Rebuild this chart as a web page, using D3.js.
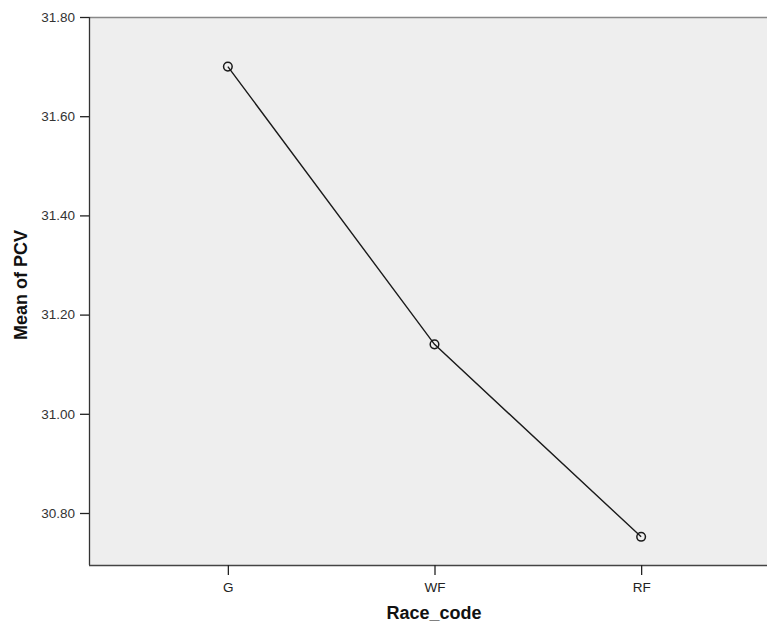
<!DOCTYPE html>
<html>
<head>
<meta charset="utf-8">
<script src="https://cdn.jsdelivr.net/npm/d3@7/dist/d3.min.js"></script>
<style>
  body { margin: 0; background: #fff; }
  svg { display: block; font-family: "Liberation Sans", Arial, sans-serif; }
</style>
</head>
<body>
<div id="chart"></div>
<script>
// means of PCV by race code
const categories = ['G', 'WF', 'RF'];
const means = [31.70, 31.14, 30.752];
const yTicks = [30.8, 31.0, 31.2, 31.4, 31.6, 31.8];

const width = 767, height = 624;
const plotLeft = 89, plotTop = 17, plotBottom = 565, plotRight = 780;

const svg = d3.select('#chart').append('svg')
  .attr('width', width)
  .attr('height', height);

const x = d3.scalePoint().domain(categories).range([plotLeft, plotRight]).padding(0.672);
const y = d3.scaleLinear().domain([30.8, 31.8]).range([513, plotTop]);

// plot background
svg.append('rect')
  .attr('x', plotLeft).attr('y', plotTop)
  .attr('width', plotRight - plotLeft).attr('height', plotBottom - plotTop)
  .attr('fill', '#eeeeee');

svg.append('line')
  .attr('x1', plotLeft).attr('x2', width).attr('y1', plotTop + 0.5).attr('y2', plotTop + 0.5)
  .attr('stroke', '#888').attr('stroke-width', 1.5);

// y axis
const yAxis = svg.append('g')
  .attr('transform', `translate(${plotLeft},0)`)
  .call(d3.axisLeft(y).tickValues(yTicks).tickFormat(d3.format('.2f')).tickSize(9).tickPadding(5));
yAxis.select('.domain').attr('d', `M0.5,${plotTop}V${plotBottom}`).attr('stroke', '#333').attr('stroke-width', 1.3);
yAxis.selectAll('.tick line').attr('stroke', '#222').attr('stroke-width', 1.3);
yAxis.selectAll('.tick text').attr('fill', '#333').attr('font-size', 13.5);

// x axis
const xAxis = svg.append('g')
  .attr('transform', `translate(0,${plotBottom})`)
  .call(d3.axisBottom(x).tickSize(10).tickPadding(7));
xAxis.select('.domain').attr('d', `M${plotLeft},0.5H${width}`).attr('stroke', '#444').attr('stroke-width', 1.5);
xAxis.selectAll('.tick line').attr('stroke', '#222').attr('stroke-width', 1.3);
xAxis.selectAll('.tick text').attr('fill', '#222').attr('font-size', 13.5);

// line + markers
const pts = categories.map((c, i) => ({ c, v: means[i] }));
const line = d3.line().x(d => x(d.c)).y(d => y(d.v));
svg.append('path')
  .datum(pts)
  .attr('d', line)
  .attr('fill', 'none')
  .attr('stroke', '#1a1a1a')
  .attr('stroke-width', 1.4);

svg.selectAll('.pt')
  .data(pts)
  .enter().append('circle')
  .attr('class', 'pt')
  .attr('cx', d => x(d.c))
  .attr('cy', d => y(d.v))
  .attr('r', 4.3)
  .attr('fill', 'none')
  .attr('stroke', '#1a1a1a')
  .attr('stroke-width', 1.5);

// axis titles
svg.append('text')
  .attr('x', 434).attr('y', 619)
  .attr('text-anchor', 'middle')
  .attr('font-size', 18).attr('font-weight', 'bold')
  .attr('fill', '#111')
  .text('Race_code');

svg.append('text')
  .attr('transform', 'translate(27,285) rotate(-90)')
  .attr('text-anchor', 'middle')
  .attr('font-size', 18).attr('font-weight', 'bold')
  .attr('fill', '#111')
  .text('Mean of PCV');
</script>
</body>
</html>
